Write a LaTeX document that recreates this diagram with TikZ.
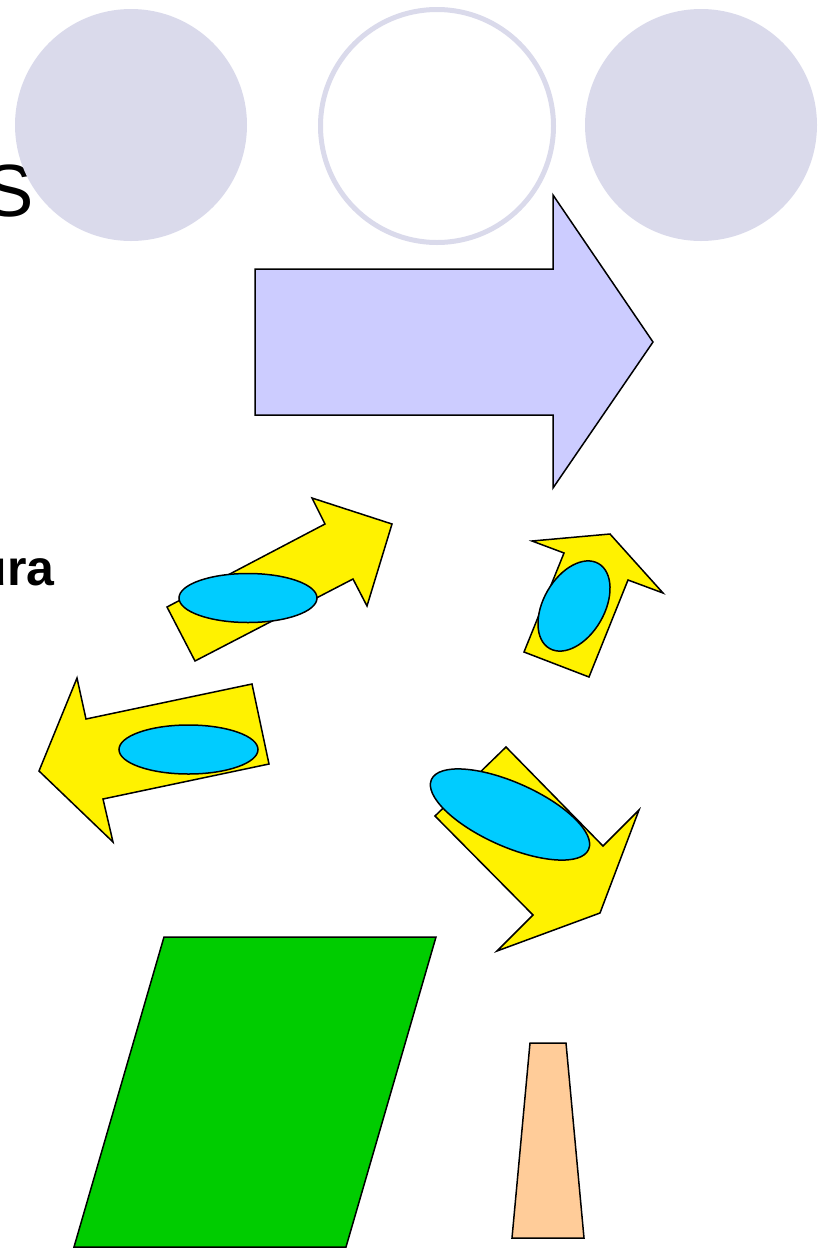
\documentclass[tikz,border=0pt]{standalone}
\usepackage{fontspec}
\setmainfont{Liberation Sans}
\definecolor{ringlav}{RGB}{218,218,235}
\definecolor{arrowlav}{RGB}{204,204,255}
\definecolor{spotblue}{RGB}{0,204,255}
\definecolor{lawn}{RGB}{0,204,0}
\definecolor{peach}{RGB}{255,204,153}
\tikzset{
  outline/.style={draw=black, line width=0.75pt, line join=miter},
  yellowarrow/.style={outline, fill=yellow},
  spot/.style={outline, fill=spotblue},
}
\begin{document}
\begin{tikzpicture}[x=0.5pt,y=-0.5pt]
\useasboundingbox (0,0) rectangle (830,1248);

% title and text, cut at the left
\node (title) [anchor=base east, inner sep=0pt, font=\fontsize{37}{40}\selectfont] at (34,216) {S};
\node (word) [anchor=base east, inner sep=0pt, font=\fontsize{25}{28}\selectfont\bfseries] at (55,585) {ura};

% circles
\fill[ringlav] (131,125) circle (116);
\draw[ringlav, line width=2.5pt] (437,126) circle (116.5);
\fill[ringlav] (701,125) circle (116);

% big arrow
\draw[outline, fill=arrowlav] (255,269) -- (553,269) -- (553,195) -- (653,342)
  -- (553,488) -- (553,415) -- (255,415) -- cycle;

% yellow arrows
\draw[yellowarrow] (167,607) -- (325,524) -- (312,498) -- (392,524)
  -- (367,606) -- (353,579) -- (195,661) -- cycle;
\draw[spot] (248,598) ellipse [x radius=69, y radius=24.5];

\draw[yellowarrow] (524,652) -- (564,553) -- (532,541) -- (610,534)
  -- (663,593) -- (628,580) -- (589,677) -- cycle;
\draw[spot] (574,606) ellipse [x radius=49, y radius=30.5, rotate=60];

\draw[yellowarrow] (39,771) -- (77,678) -- (86,719) -- (252,684)
  -- (269,764) -- (103,799) -- (113,842) -- cycle;
\draw[spot] (188.5,749.5) ellipse [x radius=69.5, y radius=24.5];

\draw[yellowarrow] (506,747) -- (603,846) -- (639,810) -- (600,913)
  -- (497,951) -- (533,915) -- (435,816) -- cycle;
\draw[spot] (510,814.5) ellipse [x radius=86, y radius=32, rotate=-24];

% bottom shapes
\draw[outline, fill=lawn] (164,937) -- (436,937) -- (346,1247) -- (74,1247) -- cycle;
\draw[outline, fill=peach] (530,1043) -- (566,1043) -- (584,1238) -- (512,1238) -- cycle;
\end{tikzpicture}
\end{document}
